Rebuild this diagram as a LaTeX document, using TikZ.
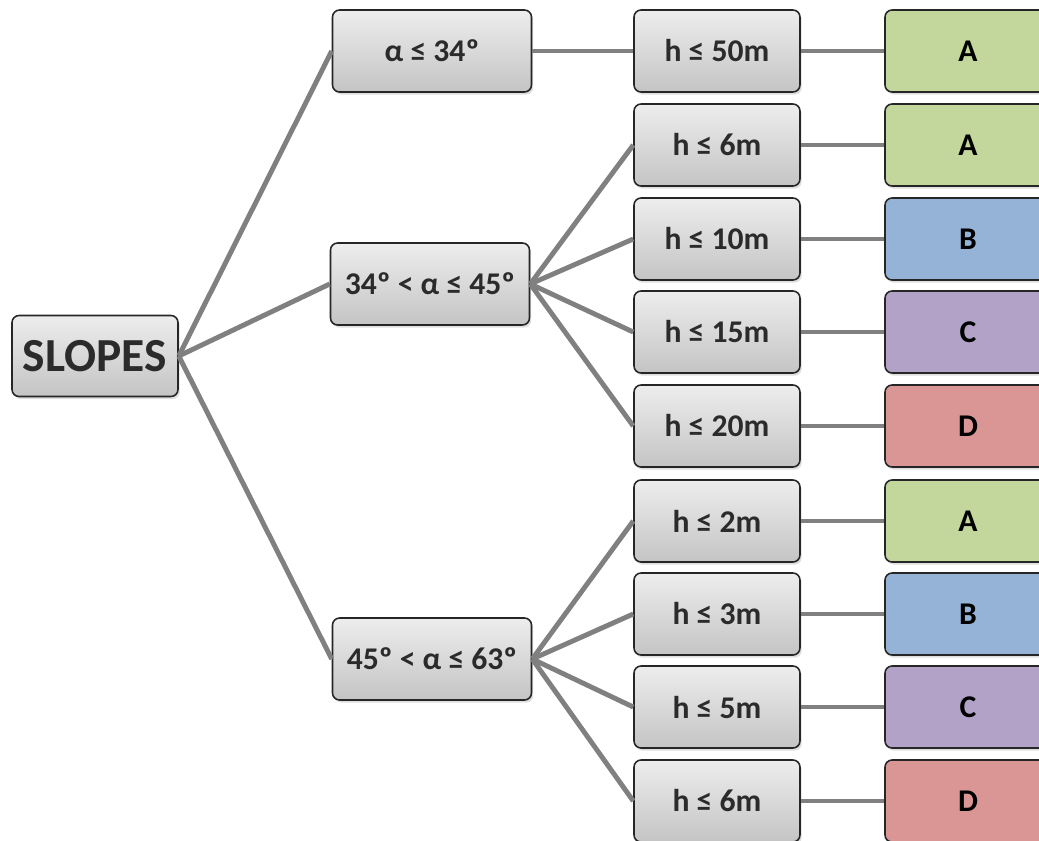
\documentclass[tikz,border=0pt]{standalone}
\usepackage{fontspec}
\setmainfont{Carlito}
\usetikzlibrary{shadows}
\definecolor{boxtop}{HTML}{EDEDED}
\definecolor{boxbot}{HTML}{C4C4C4}
\definecolor{linkgray}{HTML}{808080}
\definecolor{txtgray}{HTML}{2B2B2B}
\definecolor{classA}{HTML}{C3D69B}
\definecolor{classB}{HTML}{95B3D7}
\definecolor{classC}{HTML}{B2A2C7}
\definecolor{classD}{HTML}{D99694}

\begin{document}
\begin{tikzpicture}[x=0.02cm, y=-0.02cm,
    greybox/.style={draw=black!85, line width=0.9pt, rounded corners=4pt, top color=boxtop, bottom color=boxbot,
        text=txtgray, font=\fontsize{18}{20}\selectfont\bfseries, minimum height=1.64cm,
        drop shadow={opacity=0.25, shadow xshift=1pt, shadow yshift=-1.5pt}},
    anglebox/.style={greybox, minimum width=3.98cm},
    heightbox/.style={greybox, minimum width=3.32cm},
    classbox/.style={draw=black!85, line width=0.9pt, rounded corners=4pt, minimum width=3.32cm, minimum height=1.64cm,
        font=\fontsize{18}{20}\selectfont\bfseries,
        drop shadow={opacity=0.25, shadow xshift=1pt, shadow yshift=-1.5pt}},
    link/.style={draw=linkgray, line width=2.8pt}]
    \clip (0,0) rectangle (1039,840);
    \useasboundingbox (0,0) rectangle (1039,840);

    % root
    \node[greybox, minimum width=3.32cm, minimum height=1.62cm, font=\fontsize{27}{29}\selectfont\bfseries] (slopes) at (95,356) {SLOPES};

    % angle classes
    \node[anglebox] (ang1) at (432,51) {α ≤ 34º};
    \node[anglebox] (ang2) at (430,284) {34º < α ≤ 45º};
    \node[anglebox] (ang3) at (432,659) {45º < α ≤ 63º};

    % heights
    \node[heightbox] (h1) at (717,51) {h ≤ 50m};
    \node[heightbox] (h2) at (717,145) {h ≤ 6m};
    \node[heightbox] (h3) at (717,239) {h ≤ 10m};
    \node[heightbox] (h4) at (717,332) {h ≤ 15m};
    \node[heightbox] (h5) at (717,426) {h ≤ 20m};
    \node[heightbox] (h6) at (717,521) {h ≤ 2m};
    \node[heightbox] (h7) at (717,614) {h ≤ 3m};
    \node[heightbox] (h8) at (717,707) {h ≤ 5m};
    \node[heightbox] (h9) at (717,801) {h ≤ 6m};

    % classes
    \node[classbox, fill=classA] (c1) at (968,51) {A};
    \node[classbox, fill=classA] (c2) at (968,145) {A};
    \node[classbox, fill=classB] (c3) at (968,239) {B};
    \node[classbox, fill=classC] (c4) at (968,332) {C};
    \node[classbox, fill=classD] (c5) at (968,426) {D};
    \node[classbox, fill=classA] (c6) at (968,521) {A};
    \node[classbox, fill=classB] (c7) at (968,614) {B};
    \node[classbox, fill=classC] (c8) at (968,707) {C};
    \node[classbox, fill=classD] (c9) at (968,801) {D};

    % links
    \draw[link] (slopes.east) -- (ang1.west);
    \draw[link] (slopes.east) -- (ang2.west);
    \draw[link] (slopes.east) -- (ang3.west);
    \draw[link] (ang1.east) -- (h1.west);
    \draw[link] (ang2.east) -- (h2.west);
    \draw[link] (ang2.east) -- (h3.west);
    \draw[link] (ang2.east) -- (h4.west);
    \draw[link] (ang2.east) -- (h5.west);
    \draw[link] (ang3.east) -- (h6.west);
    \draw[link] (ang3.east) -- (h7.west);
    \draw[link] (ang3.east) -- (h8.west);
    \draw[link] (ang3.east) -- (h9.west);
    \draw[link] (h1.east) -- (c1.west);
    \draw[link] (h2.east) -- (c2.west);
    \draw[link] (h3.east) -- (c3.west);
    \draw[link] (h4.east) -- (c4.west);
    \draw[link] (h5.east) -- (c5.west);
    \draw[link] (h6.east) -- (c6.west);
    \draw[link] (h7.east) -- (c7.west);
    \draw[link] (h8.east) -- (c8.west);
    \draw[link] (h9.east) -- (c9.west);
\end{tikzpicture}
\end{document}
